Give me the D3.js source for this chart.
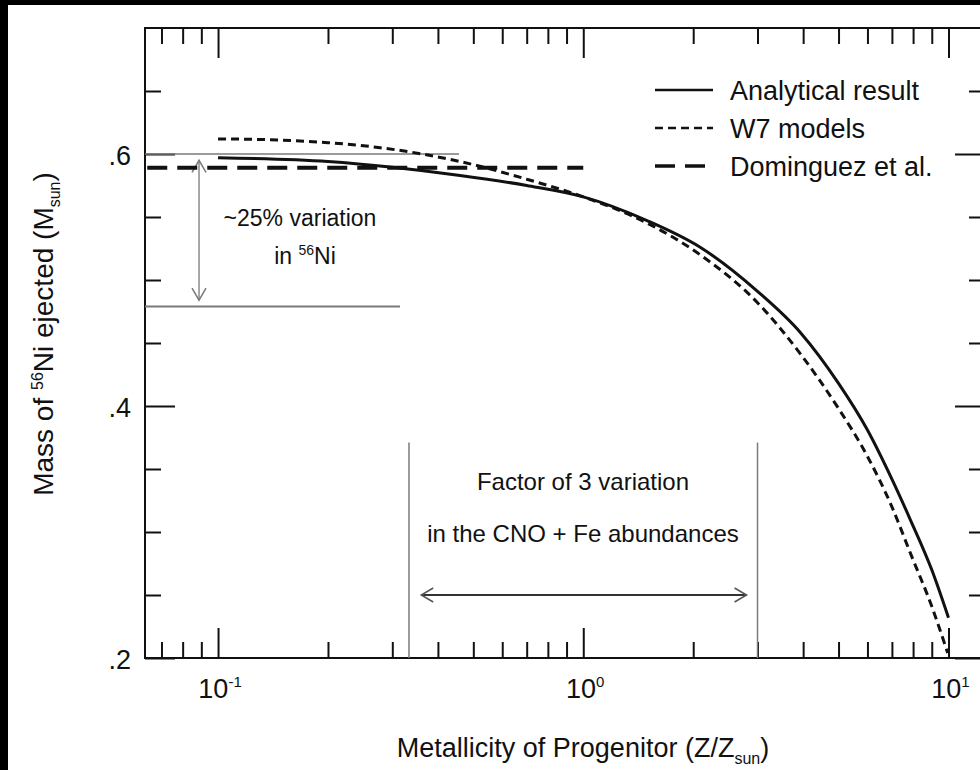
<!DOCTYPE html>
<html>
<head>
<meta charset="utf-8">
<script src="https://cdn.jsdelivr.net/npm/d3@7"></script>
<style>
  body { margin: 0; background: #000; }
  svg { display: block; }
  text { font-family: "Liberation Sans", Arial, Helvetica, sans-serif; fill: #111; }
  .domain { display: none; }
  .tick line { stroke: #111; stroke-width: 2; }
</style>
</head>
<body>
<script>
// analytical result (solid)
var analyticX = [0.1, 0.2, 0.3, 0.46, 0.7, 1.0, 1.5, 2.09, 3.0, 3.94, 5.0, 6.0, 7.0, 7.87, 9.0, 10.0];
var analyticY = [0.597, 0.594, 0.5895, 0.583, 0.575, 0.566, 0.547, 0.526, 0.491, 0.458, 0.418, 0.381, 0.342, 0.3095, 0.27, 0.232];
// W7 models (short dash)
var w7X = [0.1, 0.15, 0.2, 0.278, 0.46, 0.7, 1.0, 1.5, 2.09, 3.0, 3.94, 5.0, 6.0, 7.0, 7.87, 9.0, 9.95];
var w7Y = [0.612, 0.611, 0.609, 0.605, 0.594, 0.58, 0.566, 0.545, 0.52, 0.482, 0.441, 0.398, 0.36, 0.32, 0.283, 0.241, 0.204];
// Dominguez et al. (long dash)
var domX = [0.064, 1.0];
var domY = [0.589, 0.589];

var legendNames = ["Analytical result", "W7 models", "Dominguez et al."];
var xMajor = [0.1, 1, 10];
var xMajorExp = ["-1", "0", "1"];
var yMajor = [0.2, 0.4, 0.6];
var yMajorLabels = [".2", ".4", ".6"];
var yMinor = [0.25, 0.3, 0.35, 0.45, 0.5, 0.55, 0.65];

var xMinor = [];
[0.01, 0.1, 1].forEach(function(dec) {
  for (var k = 2; k <= 9; k++) xMinor.push(k * dec);
});
xMinor = xMinor.filter(function(v) { return v > 0.0631; });

var W = 980, H = 770;
var svg = d3.select("body").append("svg").attr("width", W).attr("height", H);
svg.append("rect").attr("x", 8).attr("y", 5).attr("width", W - 8).attr("height", H - 5).attr("fill", "#fff");

var x = d3.scaleLog().domain([Math.pow(10, -1.2), Math.pow(10, 1.1)]).range([145, 985]);
var y = d3.scaleLinear().domain([0.2, 0.7]).range([658, 28]);

// frame
svg.append("rect").attr("x", 145).attr("y", 28).attr("width", 840).attr("height", 630)
  .attr("fill", "none").attr("stroke", "#111").attr("stroke-width", 2);

function ticks(axis, tr) {
  svg.append("g").attr("transform", tr).call(axis.tickFormat("")).selectAll(".tick text").remove();
}
ticks(d3.axisBottom(x).tickValues(xMinor).tickSize(-16).tickSizeOuter(0), "translate(0,658)");
ticks(d3.axisBottom(x).tickValues(xMajor).tickSize(-30).tickSizeOuter(0), "translate(0,658)");
ticks(d3.axisTop(x).tickValues(xMinor).tickSize(-16).tickSizeOuter(0), "translate(0,28)");
ticks(d3.axisTop(x).tickValues(xMajor).tickSize(-30).tickSizeOuter(0), "translate(0,28)");
ticks(d3.axisLeft(y).tickValues(yMinor).tickSize(-16).tickSizeOuter(0), "translate(145,0)");
ticks(d3.axisLeft(y).tickValues(yMajor).tickSize(-30).tickSizeOuter(0), "translate(145,0)");
ticks(d3.axisRight(y).tickValues(yMinor).tickSize(-16).tickSizeOuter(0), "translate(985,0)");
ticks(d3.axisRight(y).tickValues(yMajor).tickSize(-30).tickSizeOuter(0), "translate(985,0)");

// tick labels
xMajor.forEach(function(v, i) {
  var t = svg.append("text").attr("x", x(v) + 2).attr("y", 698).attr("text-anchor", "middle")
    .style("font-size", "27px");
  t.append("tspan").text("10");
  t.append("tspan").attr("dy", -11).style("font-size", "15px").text(xMajorExp[i]);
});
yMajor.forEach(function(v, i) {
  svg.append("text").attr("x", 131).attr("y", y(v) + 11).attr("text-anchor", "end")
    .style("font-size", "27px").text(yMajorLabels[i]);
});

// axis titles
var xt = svg.append("text").attr("x", 583).attr("y", 757).attr("text-anchor", "middle").style("font-size", "27px");
xt.append("tspan").text("Metallicity of Progenitor (Z/Z");
xt.append("tspan").attr("dy", 7).style("font-size", "16px").text("sun");
xt.append("tspan").attr("dy", -7).text(")");

var yt = svg.append("text").attr("transform", "translate(53,334) rotate(-90)").attr("text-anchor", "middle").style("font-size", "28px");
yt.append("tspan").text("Mass of ");
yt.append("tspan").attr("dy", -10).style("font-size", "16px").text("56");
yt.append("tspan").attr("dy", 10).text("Ni ejected (M");
yt.append("tspan").attr("dy", 7).style("font-size", "16px").text("sun");
yt.append("tspan").attr("dy", -7).text(")");

// annotations (gray)
var gray = "#7a7a7a";
function gline(x1, y1, x2, y2, w) {
  svg.append("line").attr("x1", x1).attr("y1", y1).attr("x2", x2).attr("y2", y2)
    .attr("stroke", gray).attr("stroke-width", w || 1.5);
}
gline(x(0.0631), y(0.6), x(0.457), y(0.6), 1.3);
gline(x(0.0631), y(0.479), x(0.315), y(0.479), 2);
gline(x(1 / 3), y(0.371), x(1 / 3), y(0.2), 1.5);
gline(x(3), y(0.371), x(3), y(0.2), 1.5);

function arrowHead(px, py, dx, dy, col) {
  // open V head pointing in direction (dx,dy)
  var L = 12, Wd = 7;
  var nx = -dy, ny = dx;
  var p = d3.path();
  p.moveTo(px - dx * L + nx * Wd, py - dy * L + ny * Wd);
  p.lineTo(px, py);
  p.lineTo(px - dx * L - nx * Wd, py - dy * L - ny * Wd);
  svg.append("path").attr("d", p.toString()).attr("fill", "none").attr("stroke", col || gray).attr("stroke-width", 1.5);
}
var ax = x(0.0887);
gline(ax, y(0.595), ax, y(0.484), 1.3);
arrowHead(ax, y(0.595), 0, -1);
arrowHead(ax, y(0.484), 0, 1);

var hy = y(0.25);
svg.append("line").attr("x1", x(0.36)).attr("y1", hy).attr("x2", x(2.8)).attr("y2", hy)
  .attr("stroke", "#333").attr("stroke-width", 2);
arrowHead(x(0.36), hy, -1, 0, "#555");
arrowHead(x(2.8), hy, 1, 0, "#555");

var a1 = svg.append("g").style("font-size", "23px");
a1.append("text").attr("x", 300).attr("y", 226).attr("text-anchor", "middle").text("~25% variation");
var a2 = a1.append("text").attr("x", 305).attr("y", 264).attr("text-anchor", "middle");
a2.append("tspan").text("in ");
a2.append("tspan").attr("dy", -9).style("font-size", "14px").text("56");
a2.append("tspan").attr("dy", 9).text("Ni");

svg.append("text").attr("x", 583).attr("y", 490).attr("text-anchor", "middle").style("font-size", "24px")
  .text("Factor of 3 variation");
svg.append("text").attr("x", 583).attr("y", 542).attr("text-anchor", "middle").style("font-size", "24px")
  .text("in the CNO + Fe abundances");

// curves
var line = d3.line().x(function(d) { return x(d[0]); }).y(function(d) { return y(d[1]); }).curve(d3.curveMonotoneX);
var series = [
  { xs: analyticX, ys: analyticY, dash: null, w: 3 },
  { xs: w7X, ys: w7Y, dash: "8,5", w: 3 },
  { xs: domX, ys: domY, dash: "20,10", w: 4 }
];
series.forEach(function(s) {
  var pts = s.xs.map(function(v, i) { return [v, s.ys[i]]; });
  svg.append("path").attr("d", line(pts)).attr("fill", "none").attr("stroke", "#111")
    .attr("stroke-width", s.w).attr("stroke-dasharray", s.dash);
});

// legend
var lg = svg.append("g");
legendNames.forEach(function(name, i) {
  var ly = 90 + i * 38;
  lg.append("line").attr("x1", 655).attr("x2", 713).attr("y1", ly).attr("y2", ly)
    .attr("stroke", "#111").attr("stroke-width", series[i].w - 0.5).attr("stroke-dasharray", series[i].dash);
  lg.append("text").attr("x", 730).attr("y", ly + 10).style("font-size", "27px").text(name);
});
</script>
</body>
</html>
